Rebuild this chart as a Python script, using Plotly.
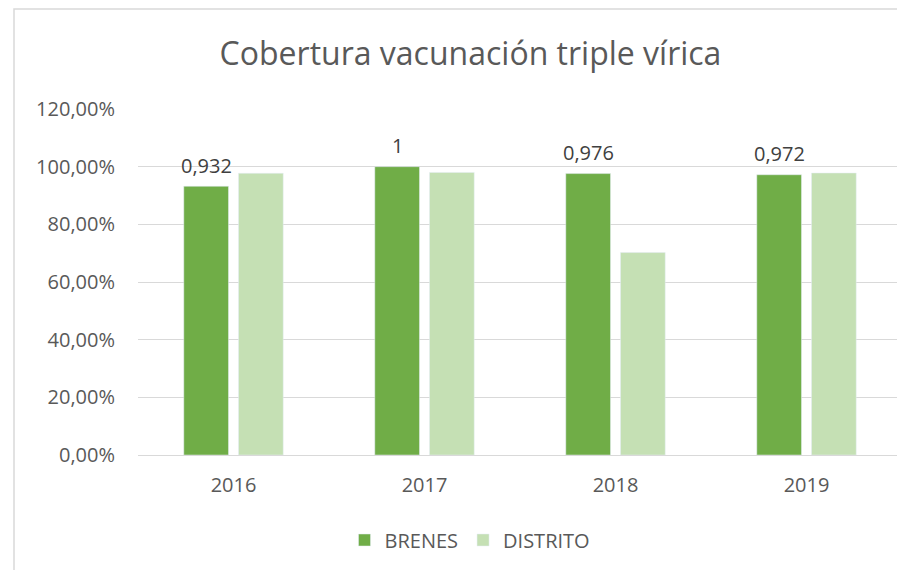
import plotly.graph_objects as go

years = ["2016", "2017", "2018", "2019"]
brenes = [0.932, 1.0, 0.976, 0.972]
distrito = [0.977, 0.980, 0.702, 0.978]
y_ticks = [0, 0.2, 0.4, 0.6, 0.8, 1.0, 1.2]

OFF = 8  # default page body margin
W, H = 905 - OFF, 570 - OFF
L, R, T, B = 138 - OFF, 3, 109 - OFF, 115
pw = W - L - R
ph = H - T - B
FONT = "Open Sans"

def px_x(x):
    return (x - OFF - L) / pw

def px_y(y):
    return (H - B - (y - OFF)) / ph

fig = go.Figure()
fig.add_trace(go.Bar(x=years, y=brenes, name="BRENES", marker_color="#70AD47"))
fig.add_trace(go.Bar(x=years, y=distrito, name="DISTRITO", marker_color="#C5E0B4"))

for i, v in enumerate(brenes):
    fig.add_annotation(x=i, y=v, xref="x", yref="y",
                       text=f"{v:.3f}".rstrip("0").rstrip(".").replace(".", ","),
                       showarrow=False, xshift=-27, yshift=21,
                       yanchor="middle", xanchor="center",
                       font=dict(size=20, color="#404040", family=FONT))

fig.update_layout(
    width=W, height=H,
    margin=dict(l=L, r=R, t=T, b=B),
    paper_bgcolor="white", plot_bgcolor="white",
    separators=",.",
    barmode="group", bargap=0.427, bargroupgap=0.183,
    font=dict(family=FONT, color="#595959"),
    title=dict(text="Cobertura vacunación triple vírica",
               x=px_x(470.5), xref="paper", xanchor="center",
               y=1 - (54 - OFF) / H, yref="container", yanchor="middle",
               font=dict(size=32, color="#595959", family=FONT)),
    showlegend=True,
    legend=dict(orientation="h", x=px_x(470), xanchor="center",
                y=px_y(540), yanchor="middle",
                font=dict(size=20, color="#595959", family=FONT),
                traceorder="normal"),
)
fig.update_yaxes(range=[0, 1.2], tickvals=y_ticks, tickformat=".2%",
                 showgrid=True, gridcolor="#D9D9D9", gridwidth=1,
                 zeroline=False, showline=False,
                 tickfont=dict(size=20, color="#595959", family=FONT),
                 ticklabelstandoff=22)
fig.update_xaxes(type="category", range=[-0.5, len(years) - 0.5],
                 showline=True, linecolor="#D9D9D9", linewidth=1,
                 tickfont=dict(size=20, color="#595959", family=FONT),
                 ticklabelstandoff=12)

fig.add_shape(type="rect", xref="paper", yref="paper",
              x0=px_x(14), x1=1.2, y0=-0.5, y1=px_y(9),
              line=dict(color="#D9D9D9", width=1.5), layer="below")

fig.write_html("out.html", config={"displayModeBar": False})
